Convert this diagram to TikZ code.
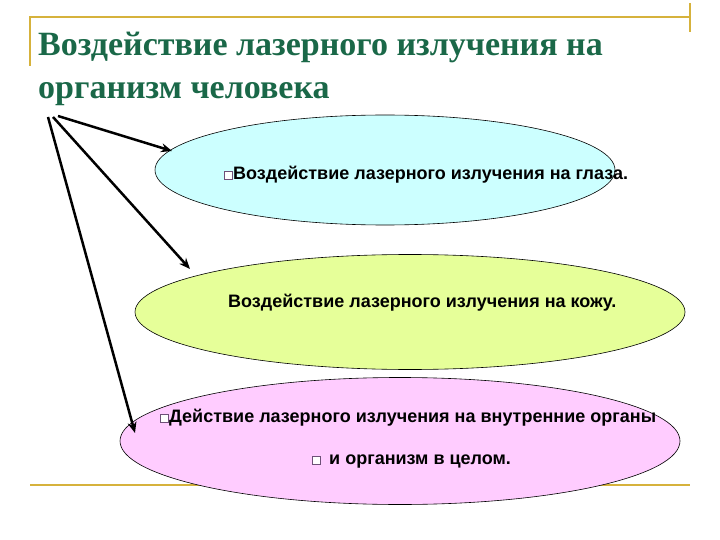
\documentclass[tikz,border=0pt]{standalone}
\usepackage{fontspec}
\setmainfont{Liberation Serif}
\setsansfont{Liberation Sans}
\usetikzlibrary{shapes.geometric,arrows.meta}
\definecolor{gold}{RGB}{214,178,60}
\definecolor{ttl}{RGB}{26,104,72}
\definecolor{ecyan}{RGB}{204,255,255}
\definecolor{egreen}{RGB}{230,255,153}
\definecolor{epink}{RGB}{255,204,255}
\definecolor{bul}{RGB}{110,80,120}
\newcommand{\bx}{\tikz[baseline=0pt]\draw[bul,line width=1pt,fill=white](0,0.5pt) rectangle (8pt,8.5pt);}
\tikzset{oval/.style={ellipse,draw=black,line width=0.6pt,inner sep=0pt},
 lbl/.style={font=\sffamily\bfseries\fontsize{18}{21}\selectfont,inner sep=0pt},
 arr/.style={line width=2.5pt,-{Stealth[length=11pt,width=9pt]}},
 gline/.style={gold,line width=1.5pt}}
\begin{document}
\begin{tikzpicture}[x=1pt,y=-1pt]
\useasboundingbox (0,0) rectangle (720,540);
\draw[gline] (30,66) -- (30,17) -- (690,17);
\draw[gline] (690,3) -- (690,32);
\draw[gline] (30,485) -- (690,485);
\node[oval,fill=ecyan,minimum width=460,minimum height=110] (e1) at (385,170) {};
\node[oval,fill=egreen,minimum width=550,minimum height=115] (e2) at (410,312) {};
\node[oval,fill=epink,minimum width=560,minimum height=127] (e3) at (400,441) {};
\node[lbl,anchor=west] (t1) at (224,175) {\bx Воздействие лазерного излучения на глаза.};
\node[lbl,anchor=west] (t2) at (228,303) {Воздействие лазерного излучения на кожу.};
\node[lbl,anchor=west] (t3) at (160,418) {\bx Действие лазерного излучения на внутренние органы};
\node[lbl,anchor=west] (t4) at (312,462) {\bx\, и организм в целом.};
\node[anchor=north west,align=left,text=ttl,inner sep=0pt,font=\bfseries\fontsize{34}{43}\selectfont] (title) at (38,32) {Воздействие лазерного излучения на\\организм человека};
\coordinate (s1) at (58,116);
\coordinate (s2) at (53,117);
\coordinate (s3) at (48,117);
\coordinate (p1) at (172,151);
\coordinate (p2) at (190,269);
\coordinate (p3) at (135,433);
\draw[arr] (s1) -- (p1);
\draw[arr] (s2) -- (p2);
\draw[arr] (s3) -- (p3);
\end{tikzpicture}
\end{document}
